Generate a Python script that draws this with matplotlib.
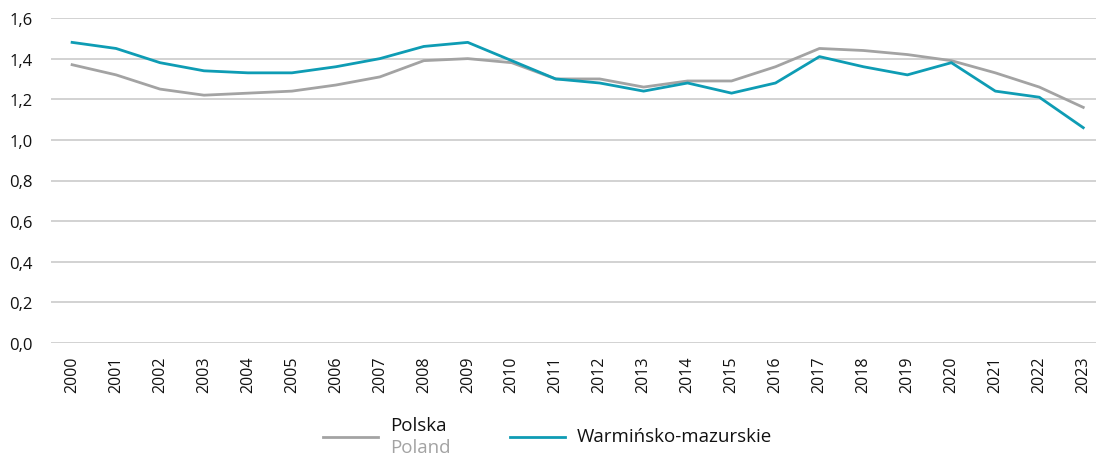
import matplotlib
matplotlib.use("Agg")
import matplotlib.pyplot as plt
from matplotlib.lines import Line2D

years = [str(y) for y in range(2000, 2024)]
polska = [1.37, 1.32, 1.25, 1.22, 1.23, 1.24, 1.27, 1.31, 1.39, 1.40, 1.38, 1.30,
          1.30, 1.26, 1.29, 1.29, 1.36, 1.45, 1.44, 1.42, 1.39, 1.33, 1.26, 1.16]
warm = [1.48, 1.45, 1.38, 1.34, 1.33, 1.33, 1.36, 1.40, 1.46, 1.48, 1.39, 1.30,
        1.28, 1.24, 1.28, 1.23, 1.28, 1.41, 1.36, 1.32, 1.38, 1.24, 1.21, 1.06]
yticks = [0.0, 0.2, 0.4, 0.6, 0.8, 1.0, 1.2, 1.4, 1.6]

plt.rcParams['font.family'] = ['Open Sans', 'DejaVu Sans']
GRAY = '#a3a3a3'
TEAL = '#0e9cb4'
TXT = '#111111'

W, H = 1096, 456
fig = plt.figure(figsize=(W / 100, H / 100), dpi=100)
ax = fig.add_axes([51 / W, 1 - 344 / H, (W - 51) / W, (344 - 19) / H])

x = list(range(len(years)))
ax.plot(x, polska, color=GRAY, lw=2.0, solid_joinstyle='round', zorder=3)
ax.plot(x, warm, color=TEAL, lw=2.0, solid_joinstyle='round', zorder=4)

ax.set_ylim(0, 1.6)
ax.set_xlim(-0.48, 23.29)
ax.set_yticks(yticks)
ax.set_yticklabels([f"{v:.1f}".replace('.', ',') for v in yticks], fontsize=12, color=TXT)
ax.set_xticks(x)
ax.set_xticklabels(years, rotation=90, fontsize=11.5, color=TXT)
ax.tick_params(axis='both', length=0)
ax.tick_params(axis='y', pad=13)
ax.tick_params(axis='x', pad=9)
ax.yaxis.grid(True, color='#c6c6c6', lw=1.1)
ax.set_axisbelow(True)
for s in ax.spines.values():
    s.set_visible(False)

# legend
def fy(py):
    return 1 - py / H

fig.add_artist(Line2D([323 / W, 378 / W], [fy(438), fy(438)], color=GRAY, lw=2.0))
fig.text(390 / W, fy(426), "Polska", fontsize=13.5, color=TXT, va='center', ha='left')
fig.text(390 / W, fy(448), "Poland", fontsize=13.5, color=GRAY, va='center', ha='left')
fig.add_artist(Line2D([510 / W, 565 / W], [fy(438), fy(438)], color=TEAL, lw=2.0))
fig.text(577 / W, fy(437), "Warmińsko-mazurskie", fontsize=13.5, color=TXT, va='center', ha='left')

fig.savefig("out.png", dpi=100)
